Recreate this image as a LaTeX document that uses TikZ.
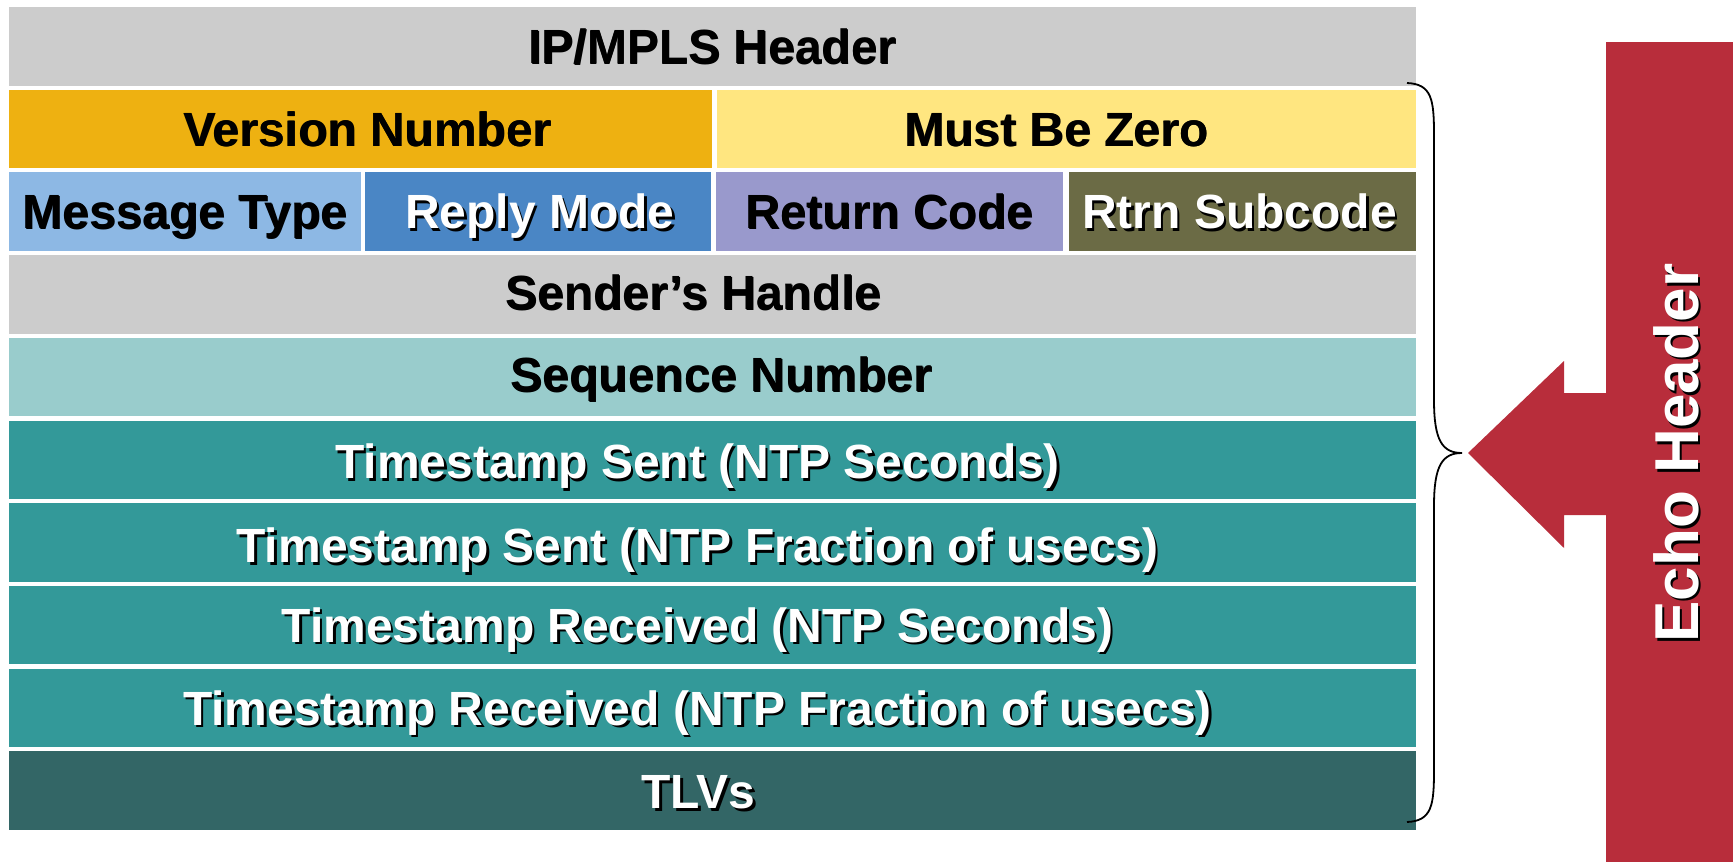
\documentclass[tikz,border=0pt]{standalone}
\usepackage{fontspec}
\setmainfont{Liberation Sans}
\usepackage{xcolor}

\definecolor{hdrgray}{HTML}{CCCCCC}
\definecolor{vergold}{HTML}{EEB111}
\definecolor{mbzyellow}{HTML}{FFE680}
\definecolor{msgblue}{HTML}{8DB8E4}
\definecolor{repblue}{HTML}{4A86C5}
\definecolor{retlav}{HTML}{9999CC}
\definecolor{subolive}{HTML}{6B6B45}
\definecolor{seqteal}{HTML}{99CCCC}
\definecolor{tsteal}{HTML}{339999}
\definecolor{tlvteal}{HTML}{336666}
\definecolor{echored}{HTML}{B82D3B}

% text with a black drop shadow: #1 dx, #2 dy, #3 colour, #4 text
\newcommand\dropshadow[4]{\rlap{\kern#1\raisebox{#2}{\color{black}#4}}{\color{#3}#4}}
\newcommand\stxt[2]{\dropshadow{2.5pt}{-2.5pt}{#1}{#2}}
\newcommand\btxt[1]{\dropshadow{0.8pt}{-0.8pt}{black}{#1}}
% nudge a label inside its field: #1 horizontal, #2 vertical, #3 content
\newcommand\nudge[3]{\kern#1\kern#1\raisebox{#2}{#3}}

\tikzset{
  field/.style={rectangle, draw=none, inner sep=0pt, minimum height=78.5pt,
    font=\fontsize{48}{50}\selectfont\bfseries,
    text height=34.4pt, text depth=0pt, align=center},
  bracepath/.style={draw=black, line width=1.8pt},
}

\begin{document}
\begin{tikzpicture}[x=1pt, y=-1pt]
\useasboundingbox (0,0) rectangle (1733,862);

% packet fields, row by row
\node[field, fill=hdrgray, minimum width=1407pt] (ip) at (712.5,46.25) {\btxt{IP/MPLS Header}};

\node[field, fill=vergold, minimum width=703pt] (ver) at (360.5,128.95) {\nudge{7pt}{0pt}{\btxt{Version Number}}};
\node[field, fill=mbzyellow, minimum width=699pt] (mbz) at (1066.5,128.95) {\nudge{-10pt}{0pt}{\btxt{Must Be Zero}}};

\node[field, fill=msgblue, minimum width=352pt] (msg) at (185,211.65) {\btxt{Message Type}};
\node[field, fill=repblue, minimum width=346pt] (rep) at (538,211.65) {\nudge{2pt}{0pt}{\stxt{white}{Reply Mode}}};
\node[field, fill=retlav, minimum width=347pt] (ret) at (889.5,211.65) {\btxt{Return Code}};
\node[field, fill=subolive, minimum width=347pt] (sub) at (1242.5,211.65) {\nudge{-3pt}{0pt}{\stxt{white}{Rtrn Subcode}}};

\node[field, fill=hdrgray, minimum width=1407pt] (snd) at (712.5,294.35) {\nudge{-19pt}{2pt}{\btxt{Sender’s Handle}}};
\node[field, fill=seqteal, minimum width=1407pt] (seq) at (712.5,377.05) {\nudge{9pt}{2.5pt}{\btxt{Sequence Number}}};
\node[field, fill=tsteal, minimum width=1407pt] (tss) at (712.5,459.75) {\nudge{-15pt}{-2pt}{\stxt{white}{Timestamp Sent (NTP Seconds)}}};
\node[field, fill=tsteal, minimum width=1407pt] (tsf) at (712.5,542.45) {\nudge{-15pt}{-3pt}{\stxt{white}{Timestamp Sent (NTP Fraction of usecs)}}};
\node[field, fill=tsteal, minimum width=1407pt] (trs) at (712.5,625.15) {\nudge{-15pt}{0pt}{\stxt{white}{Timestamp Received (NTP Seconds)}}};
\node[field, fill=tsteal, minimum width=1407pt] (trf) at (712.5,707.85) {\nudge{-15pt}{0pt}{\stxt{white}{Timestamp Received (NTP Fraction of usecs)}}};
\node[field, fill=tlvteal, minimum width=1407pt] (tlv) at (712.5,790.55) {\nudge{-14pt}{-1pt}{\stxt{white}{TLVs}}};

% curly brace spanning the echo header fields
\draw[bracepath] (1407,83) .. controls (1432,84) and (1434,100) .. (1434,135)
  -- (1434,400) .. controls (1434,440) and (1442,453) .. (1462,453)
  .. controls (1442,453) and (1434,466) .. (1434,506)
  -- (1434,770) .. controls (1434,805) and (1432,821) .. (1407,822);

% red bar with arrow pointing at the brace
\fill[echored] (1606,42) -- (1733,42) -- (1733,862) -- (1606,862) -- (1606,515)
  -- (1564,515) -- (1564,548) -- (1468,453) -- (1564,361) -- (1564,393)
  -- (1606,393) -- cycle;

\node[rotate=90, inner sep=0pt, font=\fontsize{62}{64}\selectfont\bfseries,
  text height=44.4pt, text depth=0pt] (echo) at (1676,453)
  {\dropshadow{-2.5pt}{-2.5pt}{white}{Echo Header}};
\end{tikzpicture}
\end{document}
